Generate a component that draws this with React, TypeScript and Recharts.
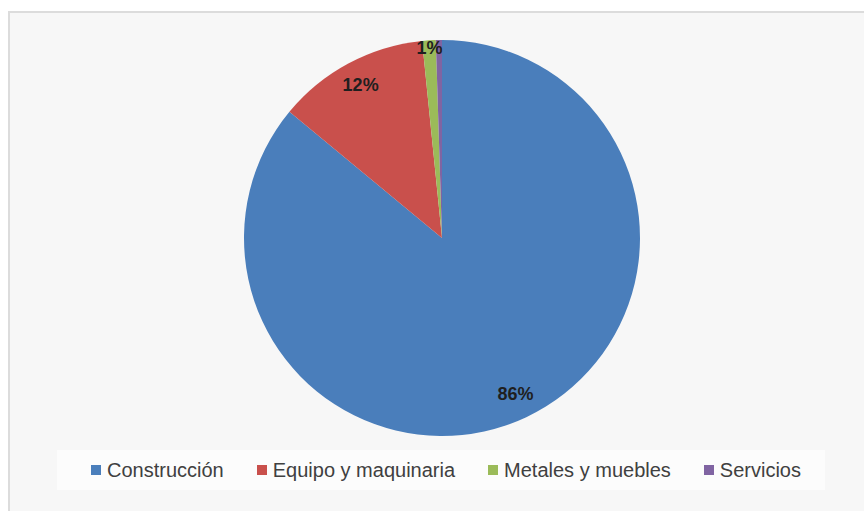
import { PieChart, Pie, Cell, Legend } from 'recharts';

const categories = ['Construcción', 'Equipo y maquinaria', 'Metales y muebles', 'Servicios'];
const shares = [86.0, 12.4, 1.1, 0.5];
const pctLabels = ['86%', '12%', '1%', ''];
const colors = ['#4A7EBB', '#C9504C', '#9BBB59', '#8064A2'];

const data = categories.map((name, i) => ({ name, value: shares[i], label: pctLabels[i] }));

const RAD = Math.PI / 180;

const renderLabel = (props: any) => {
  const { cx, cy, midAngle, outerRadius, percent, index } = props;
  const text = pctLabels[index];
  if (!text) return null;
  const r = percent > 0.05 ? outerRadius * 0.873 : outerRadius * 0.96;
  const x = cx + r * Math.cos(-midAngle * RAD);
  const y = cy + r * Math.sin(-midAngle * RAD);
  return (
    <text
      x={x}
      y={y}
      textAnchor="middle"
      dominantBaseline="central"
      fill="#1f1f1f"
      fontSize={18}
      fontWeight="bold"
      fontFamily="'Liberation Sans', Arial, sans-serif"
    >
      {text}
    </text>
  );
};

const renderLegend = () => (
  <div
    style={{
      display: 'flex',
      justifyContent: 'center',
      alignItems: 'center',
      gap: 33,
      height: 40,
      background: '#fcfcfc',
      fontFamily: "'Liberation Sans', Arial, sans-serif",
      fontSize: 20,
      color: '#404040',
      paddingLeft: 10,
    }}
  >
    {categories.map((c, i) => (
      <div key={c} style={{ display: 'flex', alignItems: 'center' }}>
        <span style={{ width: 10, height: 10, background: colors[i], marginRight: 6, display: 'inline-block' }} />
        <span>{c}</span>
      </div>
    ))}
  </div>
);

export default function App() {
  return (
    <div style={{ position: 'absolute', left: 0, top: 0, width: 864, height: 511, background: '#fff', overflow: 'hidden' }}>
      <div
        style={{
          position: 'absolute',
          left: 8,
          top: 11,
          width: 900,
          height: 540,
          background: '#f7f7f7',
          borderLeft: '2px solid #dcdcdc',
          borderTop: '2px solid #dcdcdc',
        }}
      />
      <div style={{ position: 'absolute', left: 0, top: 0 }}>
        <PieChart width={864} height={511} margin={{ top: 0, right: 0, bottom: 0, left: 0 }}>
          <Pie
            data={data}
            dataKey="value"
            nameKey="name"
            cx={442}
            cy={238}
            outerRadius={198}
            startAngle={90}
            endAngle={-270}
            stroke="none"
            label={renderLabel}
            labelLine={false}
            isAnimationActive={false}
          >
            {data.map((d, i) => (
              <Cell key={d.name} fill={colors[i]} />
            ))}
          </Pie>
          <Legend
            content={renderLegend}
            wrapperStyle={{ position: 'absolute', left: 57, top: 450, width: 768, height: 40 }}
          />
        </PieChart>
      </div>
    </div>
  );
}
